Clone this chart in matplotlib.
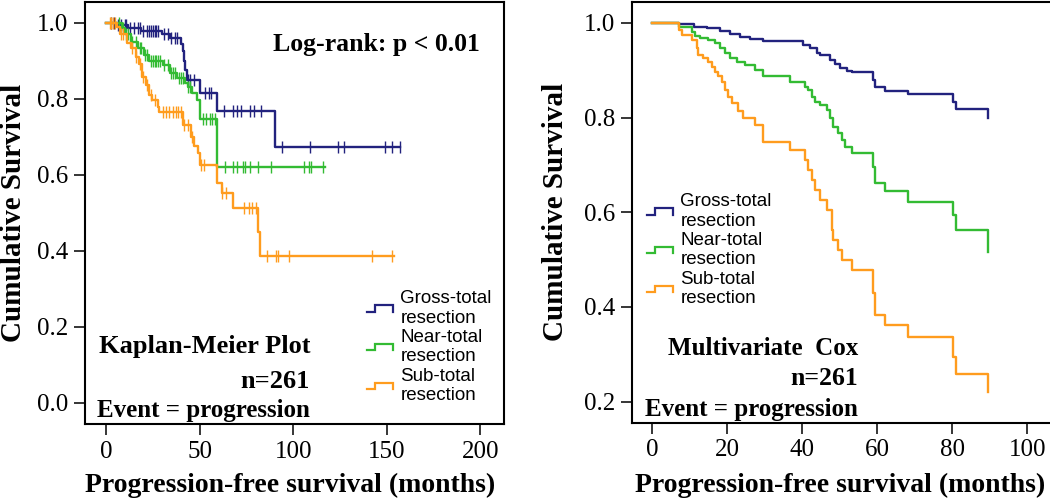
import numpy as np
import matplotlib
matplotlib.use('Agg')
import matplotlib.pyplot as plt
from matplotlib.legend_handler import HandlerBase
from matplotlib.lines import Line2D

# Kaplan-Meier (left panel) step points: time (months), cumulative survival
km_gross_t = [0, 6, 12, 19, 30, 34, 40, 41, 41.8, 42.5, 43.5, 50.3, 59.2, 90.3, 157]
km_gross_s = [1.0, 0.994, 0.986, 0.98, 0.972, 0.96, 0.945, 0.925, 0.9, 0.876, 0.85, 0.815, 0.768, 0.673, 0.673]
km_gross_cens = [3, 4.5, 6.5, 8, 10, 11, 13, 15, 17, 18, 20, 22, 23, 24, 25, 26, 27, 28, 31, 33,
                 35, 37, 38, 44, 45, 47, 53, 55, 56, 63, 68, 70, 72, 77, 79, 83, 94, 109, 124,
                 127, 149, 153, 157]

km_near_t = [0, 8.5, 10, 13.5, 17, 20.5, 23, 30.5, 34, 38, 42, 44, 46, 48.5, 50.3, 59.2, 117]
km_near_s = [1.0, 0.986, 0.97, 0.95, 0.935, 0.916, 0.9, 0.889, 0.868, 0.855, 0.841, 0.832, 0.815,
             0.797, 0.747, 0.622, 0.622]
km_near_cens = [7, 9, 11, 12, 14, 16, 18, 19, 21, 22, 24, 25, 26, 27, 28, 29, 31, 33, 35, 36, 37,
                39, 40, 41, 44, 45, 52, 53.7, 55.5, 56.9, 58.2, 63.6, 68.1, 69.9, 73.1, 74.4,
                77.1, 81.1, 88, 106, 108.3, 109.6, 116]

km_sub_t = [0, 5.9, 7.7, 11.4, 13.2, 15.9, 17.7, 19.5, 21.3, 23.1, 24.9, 27.6, 28.5, 41.3, 45.5,
            47, 49, 50.3, 59.2, 61.8, 68, 81, 82.5, 154]
km_sub_s = [1.0, 0.99, 0.97, 0.947, 0.934, 0.911, 0.893, 0.858, 0.836, 0.81, 0.797, 0.779, 0.765,
            0.732, 0.70, 0.675, 0.657, 0.626, 0.58, 0.553, 0.513, 0.45, 0.387, 0.387]
km_sub_cens = [2, 3, 4, 5, 8, 9, 14, 16, 18, 20, 22, 24, 26, 30.3, 32, 33.9, 36, 37.5, 38.4, 40.2,
               41.6, 44, 46, 51, 52.5, 62, 64, 73.5, 76.2, 78, 80, 86.1, 91, 92.1, 97.8, 142, 152.8]

# Multivariate Cox (right panel)
cox_gross_t = [0, 7.3, 11.1, 14.6, 18.2, 20.8, 23.5, 26.2, 29.7, 40.3, 42.1, 43.9, 44.8, 47.5, 48.8,
               50.1, 51.9, 53.2, 58.8, 59.4, 62.1, 68.3, 80.3, 81, 89.6]
cox_gross_s = [1.0, 0.998, 0.992, 0.989, 0.983, 0.976, 0.971, 0.966, 0.961, 0.954, 0.947, 0.937,
               0.932, 0.922, 0.913, 0.904, 0.899, 0.896, 0.88, 0.865, 0.857, 0.85, 0.834, 0.818, 0.80]

cox_near_t = [0, 7.3, 10.6, 11.5, 12.8, 15, 16.8, 18.2, 19.5, 20.8, 22.6, 24.8, 27.5, 29.7, 36.8,
              40.8, 41.7, 42.6, 43.5, 44.8, 46.6, 47.5, 48.3, 49.7, 50.6, 51.5, 53.2, 58.8, 59.4,
              62.1, 68.3, 80.3, 81, 89.6]
cox_near_s = [1.0, 0.992, 0.982, 0.973, 0.969, 0.964, 0.957, 0.947, 0.936, 0.927, 0.918, 0.911,
              0.901, 0.887, 0.876, 0.865, 0.858, 0.844, 0.834, 0.827, 0.816, 0.799, 0.781, 0.767,
              0.753, 0.739, 0.725, 0.696, 0.661, 0.644, 0.621, 0.594, 0.563, 0.516]

cox_sub_t = [0, 7.3, 8, 10.6, 12, 12.4, 13.7, 15, 16, 16.8, 17.7, 18.6, 19.5, 20.4, 21.3, 23, 24.4,
             27.5, 29.7, 36.8, 40.8, 41.7, 42.6, 43.5, 44.8, 46.6, 47.9, 48.3, 49.7, 50.6, 53.2,
             58.8, 59.4, 62.1, 68.3, 80.3, 81, 89.6]
cox_sub_s = [1.0, 0.985, 0.975, 0.964, 0.947, 0.932, 0.925, 0.918, 0.908, 0.897, 0.887, 0.876,
             0.858, 0.844, 0.83, 0.813, 0.799, 0.785, 0.749, 0.732, 0.711, 0.689, 0.668, 0.647,
             0.626, 0.605, 0.563, 0.542, 0.52, 0.499, 0.478, 0.429, 0.383, 0.362, 0.337, 0.295,
             0.259, 0.22]

group_labels = ['Gross-total\nresection', 'Near-total\nresection', 'Sub-total\nresection']
group_colors = ['#22227e', '#33bb33', '#ff9c1e']

km_xticks = [0, 50, 100, 150, 200]
km_yticks = [0.0, 0.2, 0.4, 0.6, 0.8, 1.0]
cox_xticks = [0, 20, 40, 60, 80, 100]
cox_yticks = [0.2, 0.4, 0.6, 0.8, 1.0]

SERIF = 'Liberation Serif'
SANS = 'Liberation Sans'
plt.rcParams['font.family'] = [SERIF, 'DejaVu Serif']


class StepHandler(HandlerBase):
    """ legend handle drawn as a small step, like SPSS """
    def create_artists(self, legend, orig_handle, xdescent, ydescent, width, height, fontsize, trans):
        xs = np.array([0.0, 0.32, 0.32, 0.97, 0.97]) * width - xdescent
        ys = np.array([0.25, 0.25, 0.72, 0.72, 0.25]) * height - ydescent
        ln = Line2D(xs, ys, color=orig_handle.get_color(), lw=1.6,
                    solid_joinstyle='miter', transform=trans)
        return [ln]


def surv_at(t_steps, s_steps, times):
    idx = np.searchsorted(np.asarray(t_steps), np.asarray(times), side='right') - 1
    return np.asarray(s_steps)[idx]


def style_axes(ax, xticks, yticks):
    for sp in ax.spines.values():
        sp.set_linewidth(1.5)
        sp.set_color('black')
    ax.set_xticks(xticks)
    ax.set_yticks(yticks)
    ax.set_yticklabels([f'{v:.1f}' for v in yticks])
    ax.tick_params(direction='out', length=8, width=1.1, labelsize=18, pad=4,
                   labelfontfamily=SERIF)


fig = plt.figure(figsize=(10.5, 5.01), dpi=100)
ax1 = fig.add_axes([84.5 / 1050, 1 - 424.2 / 501, 419.2 / 1050, 422.5 / 501])
ax2 = fig.add_axes([631.6 / 1050, 1 - 422.6 / 501, 420.4 / 1050, 420.9 / 501])

# --- left: Kaplan-Meier ---
km_sets = [(km_gross_t, km_gross_s, km_gross_cens),
           (km_near_t, km_near_s, km_near_cens),
           (km_sub_t, km_sub_s, km_sub_cens)]
handles = []
for (t, s, c), col, lab in zip(km_sets, group_colors, group_labels):
    h, = ax1.step(t, s, where='post', color=col, lw=1.7, label=lab)
    ax1.plot(c, surv_at(t, s, c), ls='none', marker='|', ms=8, mew=1.0, color=col)
    handles.append(h)

ax1.set_xlim(-11.4, 212.4)
ax1.set_ylim(-0.0558, 1.056)
style_axes(ax1, km_xticks, km_yticks)

ax1.text(0.9435, 0.884, 'Log-rank: p < 0.01', transform=ax1.transAxes, ha='right', va='baseline',
         fontweight='bold', fontsize=18.5)
ax1.text(0.538, 0.168, 'Kaplan-Meier Plot', transform=ax1.transAxes, ha='right', va='baseline',
         fontweight='bold', fontsize=19)
ax1.text(0.538, 0.0857, 'n=261', transform=ax1.transAxes, ha='right', va='baseline',
         fontweight='bold', fontsize=19)
ax1.text(0.538, 0.0178, 'Event = progression', transform=ax1.transAxes, ha='right', va='baseline',
         fontweight='bold', fontsize=18)

ax1.legend(handles=handles, handler_map={Line2D: StepHandler()}, loc='upper left',
           bbox_to_anchor=(0.673, 0.3176), frameon=False, borderpad=0, borderaxespad=0,
           handlelength=1.45, handletextpad=0.35, labelspacing=0.12,
           prop={'family': SANS, 'size': 13.5})

# --- right: multivariate Cox ---
cox_sets = [(cox_gross_t, cox_gross_s), (cox_near_t, cox_near_s), (cox_sub_t, cox_sub_s)]
handles2 = []
for (t, s), col, lab in zip(cox_sets, group_colors, group_labels):
    h, = ax2.step(t, s, where='post', color=col, lw=1.7, label=lab)
    handles2.append(h)

ax2.set_xlim(-5.4, 106.6)
ax2.set_ylim(0.1556, 1.045)
style_axes(ax2, cox_xticks, cox_yticks)

ax2.text(0.5385, 0.1606, 'Multivariate  Cox', transform=ax2.transAxes, ha='right', va='baseline',
         fontweight='bold', fontsize=18)
ax2.text(0.5385, 0.0884, 'n=261', transform=ax2.transAxes, ha='right', va='baseline',
         fontweight='bold', fontsize=18.5)
ax2.text(0.5385, 0.0162, 'Event = progression', transform=ax2.transAxes, ha='right', va='baseline',
         fontweight='bold', fontsize=18)

ax2.legend(handles=handles2, handler_map={Line2D: StepHandler()}, loc='upper left',
           bbox_to_anchor=(0.036, 0.5455), frameon=False, borderpad=0, borderaxespad=0,
           handlelength=1.45, handletextpad=0.35, labelspacing=0.12,
           prop={'family': SANS, 'size': 13.5})

# axis labels
for ax, ylx, xlx, xly in [(ax1, -0.17, 0.490, -0.1605), (ax2, -0.18, 0.4957, -0.165)]:
    ax.set_ylabel('Cumulative Survival', fontweight='bold', fontsize=21, va='center')
    ax.yaxis.set_label_coords(ylx, 0.5)
    ax.set_xlabel('Progression-free survival (months)', fontweight='bold',
                  fontsize=20, va='baseline')
    ax.xaxis.set_label_coords(xlx, xly)

fig.savefig('out.png', dpi=100)
